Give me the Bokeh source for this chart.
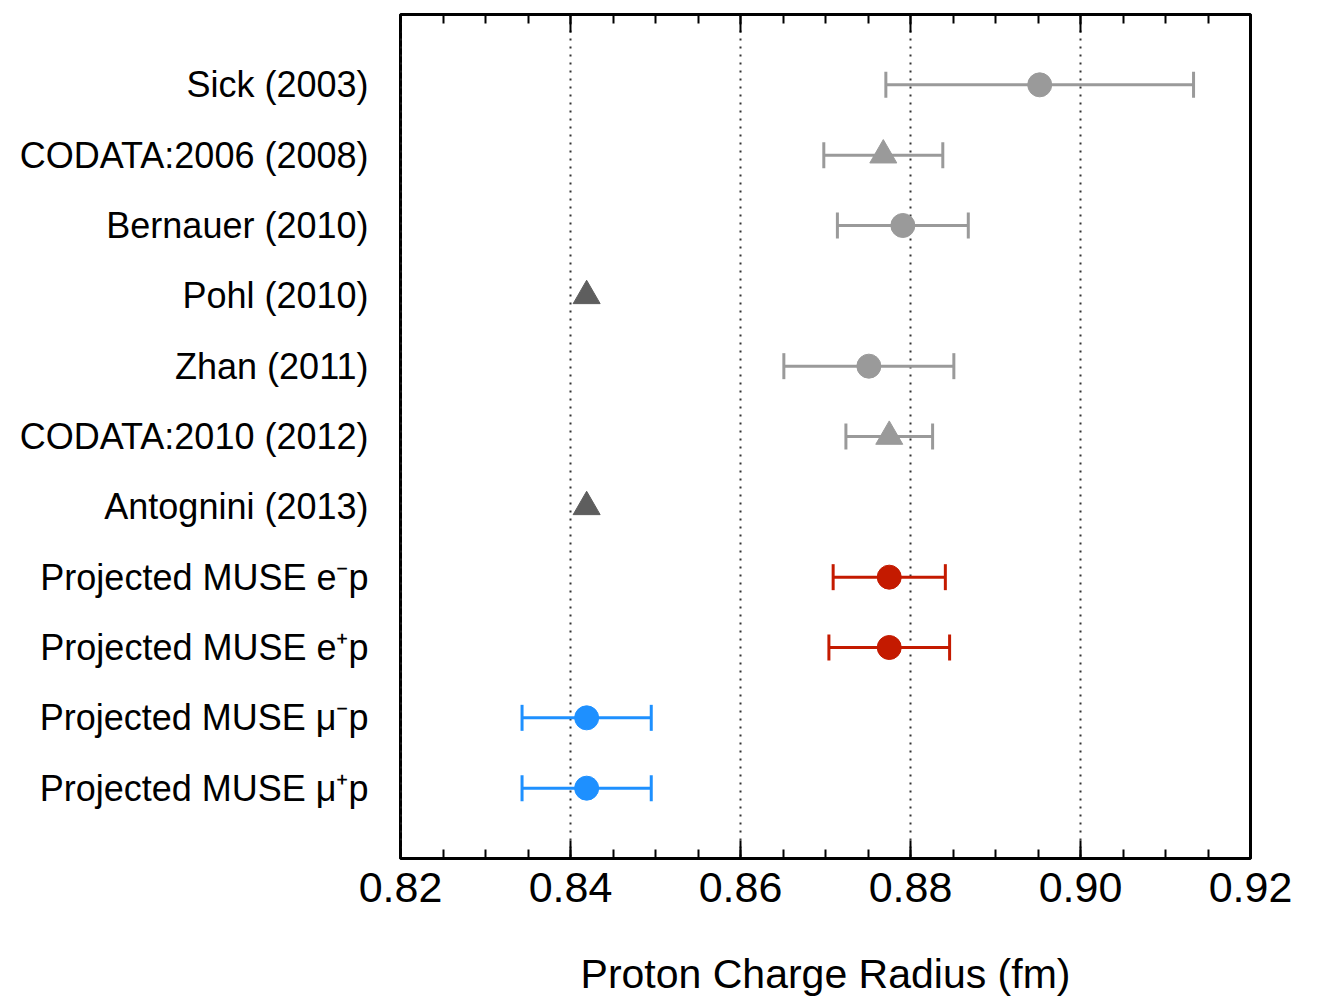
from bokeh.plotting import figure
from bokeh.models import (Range1d, FixedTicker, SingleIntervalTicker, LinearAxis,
                          Whisker, TeeHead, ColumnDataSource, NumeralTickFormatter,
                          CustomJSTickFormatter)
from bokeh.embed import file_html
from bokeh.resources import INLINE

# ---- data ----
labels = [
    "Sick (2003)",
    "CODATA:2006 (2008)",
    "Bernauer (2010)",
    "Pohl (2010)",
    "Zhan (2011)",
    "CODATA:2010 (2012)",
    "Antognini (2013)",
    "Projected MUSE e\u207bp",
    "Projected MUSE e\u207ap",
    "Projected MUSE \u03bc\u207bp",
    "Projected MUSE \u03bc\u207ap",
]
radius = [0.8952, 0.8768, 0.8791, 0.8419, 0.8751, 0.8775, 0.8419, 0.8775, 0.8775, 0.8419, 0.8419]
error = [0.0181, 0.0070, 0.0077, 0.0, 0.0100, 0.0051, 0.0, 0.0066, 0.0071, 0.0076, 0.0076]
markers = ["circle", "triangle", "circle", "triangle", "circle", "triangle",
           "triangle", "circle", "circle", "circle", "circle"]
groups = ["old", "old", "old", "muonic", "old", "old", "muonic", "e", "e", "mu", "mu"]

palette = {"old": "#9a9a9a", "muonic": "#5e5e5e", "e": "#c41a00", "mu": "#1e90ff"}

ypos = list(range(1, len(labels) + 1))

p = figure(width=1300, height=999, output_backend="svg", toolbar_location=None,
           x_range=Range1d(0.82, 0.92), y_range=Range1d(len(labels) + 1, 0),
           min_border_left=400, min_border_right=50, min_border_top=14,
           min_border_bottom=141)
p.background_fill_color = "white"
p.border_fill_color = "white"
p.outline_line_color = "black"
p.outline_line_width = 3

# x axes
xt = SingleIntervalTicker(interval=0.02, num_minor_ticks=4)
xa = p.xaxis[0]
xa.ticker = xt
xa.formatter = NumeralTickFormatter(format="0.00")
xa.axis_line_color = None
xa.major_tick_in = 18
xa.major_tick_out = 0
xa.minor_tick_in = 9
xa.minor_tick_out = 0
xa.major_tick_line_color = "black"
xa.minor_tick_line_color = "black"
xa.major_tick_line_width = 2
xa.minor_tick_line_width = 2
xa.major_label_text_font = "Liberation Sans"
xa.major_label_text_font_size = "43px"
xa.major_label_text_color = "black"
xa.major_label_standoff = 14
xa.axis_label = "Proton Charge Radius (fm)"
xa.axis_label_text_font = "Liberation Sans"
xa.axis_label_text_font_size = "41px"
xa.axis_label_text_font_style = "normal"
xa.axis_label_text_color = "black"
xa.axis_label_standoff = 46

top = LinearAxis(ticker=xt, axis_line_color=None, major_tick_in=18, major_tick_out=0,
                 minor_tick_in=9, minor_tick_out=0, major_tick_line_width=2,
                 minor_tick_line_width=2, major_tick_line_color="black",
                 minor_tick_line_color="black",
                 formatter=CustomJSTickFormatter(code="return ''"),
                 major_label_standoff=0)
p.add_layout(top, "above")

# y axis
ya = p.yaxis[0]
ya.ticker = FixedTicker(ticks=ypos)
ya.major_label_overrides = {y: lab for y, lab in zip(ypos, labels)}
ya.axis_line_color = None
ya.major_tick_line_color = None
ya.minor_tick_line_color = None
ya.major_tick_out = 0
ya.major_tick_in = 0
ya.major_label_standoff = 32
ya.major_label_text_font = "Liberation Sans"
ya.major_label_text_font_size = "36px"
ya.major_label_text_color = "black"

# grid
p.ygrid.grid_line_color = None
p.xgrid.grid_line_color = "#333333"
p.xgrid.grid_line_dash = "2 6"
p.xgrid.grid_line_width = 2

# error bars
for g in ["old", "e", "mu"]:
    idx = [i for i in range(len(labels)) if groups[i] == g and error[i] > 0]
    src = ColumnDataSource(dict(
        y=[ypos[i] for i in idx],
        lo=[radius[i] - error[i] for i in idx],
        hi=[radius[i] + error[i] for i in idx],
    ))
    c = palette[g]
    w = Whisker(source=src, base="y", lower="lo", upper="hi", dimension="width",
                line_color=c, line_width=3,
                lower_head=TeeHead(size=26, line_color=c, line_width=3),
                upper_head=TeeHead(size=26, line_color=c, line_width=3))
    p.add_layout(w)

# markers
for m in ["circle", "triangle"]:
    idx = [i for i in range(len(labels)) if markers[i] == m]
    src = ColumnDataSource(dict(
        x=[radius[i] for i in idx],
        y=[ypos[i] for i in idx],
        c=[palette[groups[i]] for i in idx],
    ))
    p.scatter("x", "y", source=src, marker=m, size=24 if m == "circle" else 27,
              fill_color="c", line_color="c", line_width=1)

open("out.html", "w").write(file_html(p, INLINE))
